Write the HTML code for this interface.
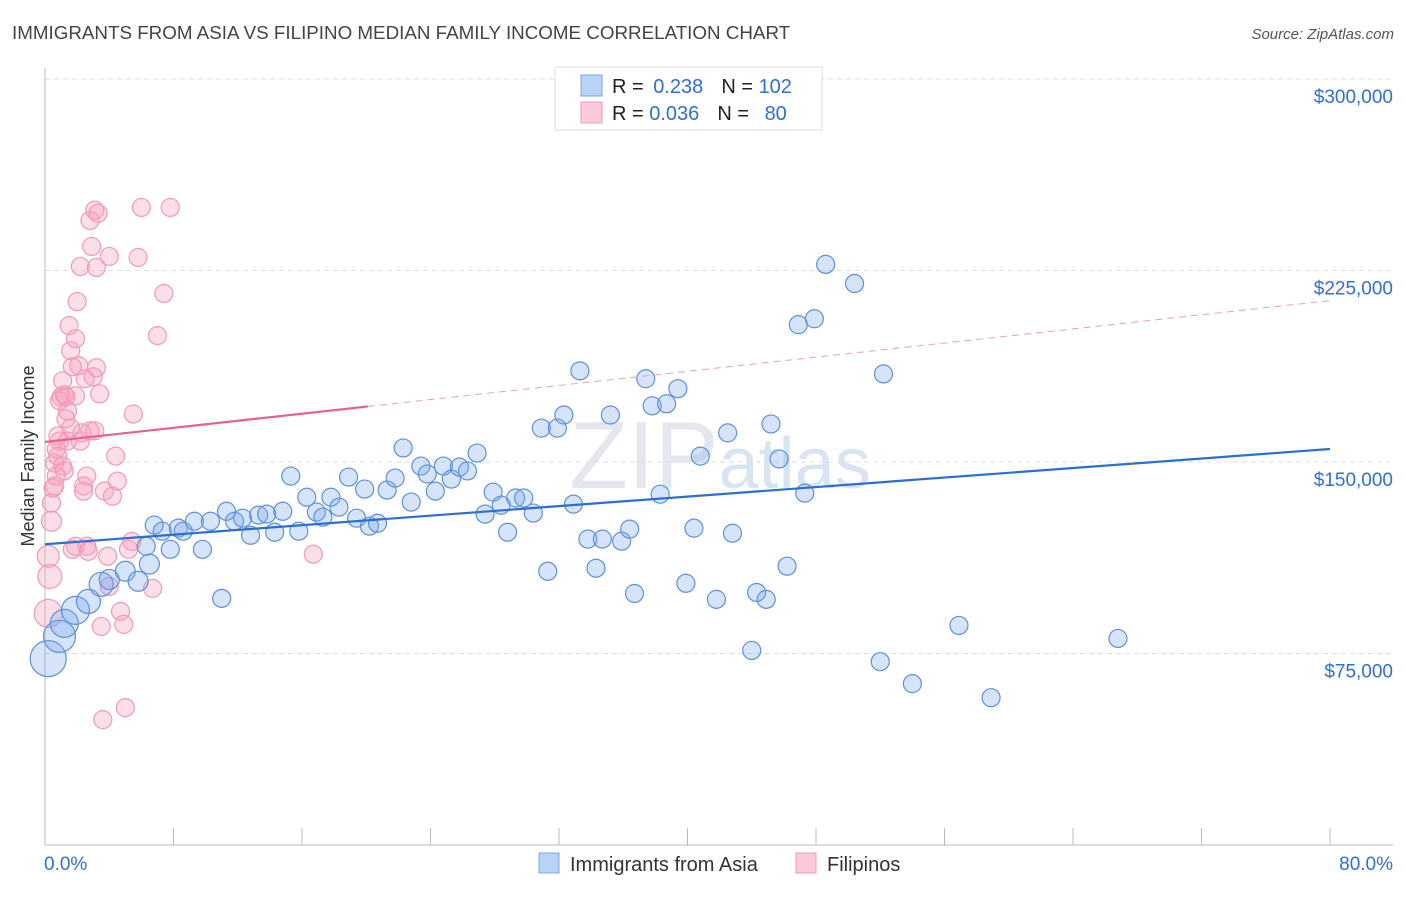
<!DOCTYPE html>
<html><head><meta charset="utf-8"><style>
body{margin:0;background:#fff;font-family:"Liberation Sans",sans-serif;}
svg text{font-family:"Liberation Sans",sans-serif;}
</style></head><body>
<svg id="chart" width="1406" height="892" xmlns="http://www.w3.org/2000/svg">
<text x="12" y="39" font-size="18.8" fill="#444">IMMIGRANTS FROM ASIA VS FILIPINO MEDIAN FAMILY INCOME CORRELATION CHART</text>
<text x="1394" y="39" font-size="15" fill="#555" font-style="italic" text-anchor="end">Source: ZipAtlas.com</text>
<text x="720" y="488" font-size="96" fill="#e4e8ee" text-anchor="middle" font-family="Liberation Serif">ZIP<tspan font-family="Liberation Sans" font-size="72" fill="#d8e4f2">atlas</tspan></text>
<g id="grid"></g>
<g id="axes"></g>
<g id="marks"></g>
<text transform="translate(34,456) rotate(-90)" font-size="18" fill="#333" text-anchor="middle">Median Family Income</text>
<g>
<rect x="555" y="67" width="267" height="63" fill="#fff" stroke="#ddd"/>
<rect x="581" y="75" width="21" height="21" fill="#b9d3f7" stroke="#7aa7e8"/>
<rect x="581" y="102" width="21" height="21" fill="#fcc9d8" stroke="#f09ab7"/>
<text x="612" y="93" font-size="20" fill="#222">R = <tspan fill="#2f6fd8" dx="4">0.238</tspan><tspan dx="18">N = </tspan><tspan fill="#2f6fd8">102</tspan></text>
<text x="612" y="120" font-size="20" fill="#222">R = <tspan fill="#2f6fd8">0.036</tspan><tspan dx="18">N = </tspan><tspan fill="#2f6fd8" dx="10">80</tspan></text>
</g>
<g>
<rect x="539" y="853" width="20" height="20" fill="#b9d3f7" stroke="#7aa7e8"/>
<text x="570" y="871" font-size="20" fill="#333">Immigrants from Asia</text>
<rect x="796" y="853" width="20" height="20" fill="#fcc9d8" stroke="#f09ab7"/>
<text x="827" y="871" font-size="20" fill="#333">Filipinos</text>
</g>
</svg>
<script>
const yTicks=[300000,225000,150000,75000];
const yTickLabels=["$300,000","$225,000","$150,000","$75,000"];
const xTickLabels=["0.0%","80.0%"];
const asiaX=[0.2,0.9,1.2,1.9,2.7,3.5,4.0,5.0,5.8,6.5,6.3,6.8,7.3,7.8,8.3,8.6,9.3,9.8,10.3,11.0,11.3,11.8,12.3,12.8,13.3,13.8,14.3,14.8,15.3,15.8,16.3,16.9,17.3,17.8,18.3,18.9,19.4,19.9,20.2,20.7,21.3,21.8,22.3,22.8,23.4,23.8,24.3,24.8,25.3,25.8,26.3,26.9,27.4,27.9,28.4,28.8,29.3,29.8,30.4,30.9,31.3,31.9,32.3,32.9,33.3,33.8,34.3,34.7,35.2,35.9,36.4,36.7,37.4,37.8,38.3,38.7,39.4,39.9,40.4,40.8,41.8,42.5,42.8,44.0,44.3,44.9,45.2,45.7,46.2,46.9,47.3,47.9,48.6,50.4,52.0,52.2,54.0,56.9,58.9,66.8];
const asiaIncome=[73,81.7,86.8,91.9,95.4,102.1,104,107.2,103.3,110,117,125.3,122.9,115.8,124.1,122.9,126.8,115.8,126.8,96.6,130.7,126.8,128,121.3,129.2,129.6,122.5,130.7,144.5,122.9,136.2,130.4,128.4,136.2,132.3,144.1,128,139.4,124.9,126,139,143.7,155.5,134.3,148.4,145.3,138.6,148.4,143.3,148,146.5,153.5,129.6,138.2,133.1,122.5,135.9,135.9,130,163.3,107.2,163.3,168.4,133.5,185.7,119.8,108.4,119.8,168.4,119,123.7,98.5,182.6,172,137.4,172.8,178.7,102.5,124.1,152.3,96.2,161.4,122.1,76.2,98.9,96.2,164.9,151.2,109.2,203.8,137.8,206.1,227.4,219.9,71.8,184.5,63.2,86,57.7,80.9];
const asiaWeight=[18,16,14,14,12,12,10,10,10,10];
const filX=[0.2,0.3,0.2,0.4,0.4,0.5,0.6,0.7,0.9,1.0,1.1,1.3,1.5,1.6,1.7,1.9,2.0,2.2,1.1,0.8,1.2,1.6,1.9,2.2,2.4,2.6,2.7,2.8,2.9,3.1,3.2,3.3,3.4,3.2,3.5,3.6,3.7,3.9,4.0,4.0,4.2,4.4,4.5,4.7,4.9,5.0,5.2,5.4,5.5,5.8,6.0,6.7,7.0,7.4,7.8,16.7,2.4,1.9,2.6,2.8,3.1,1.2,1.4,1.7,2.1,2.3,2.5,3.0,0.9,0.8,0.7,0.6,1.3,1.4];
const filIncome=[90.7,105.2,113.1,126.8,133.9,139.8,149.6,155.1,158.2,175.5,181.8,166.9,203.4,193.6,187.3,198.3,212.8,226.6,148.4,160.2,176.3,163.3,117,158.2,138.6,144.5,115,244.6,234.4,248.6,186.9,247.4,176.7,226.2,85.6,49.1,138.6,113.1,230.5,101.3,136.6,152.3,142.5,91.5,86.4,53.8,115.8,118.9,168.8,230.1,249.7,100.5,199.5,216,249.7,113.9,140.6,175.9,117,162.2,162.2,146.5,158.2,115.8,187.7,161.4,182.6,183.4,174,152.3,144.5,140.6,175.5,170];
const filWeight=[14,12,11,10];
const asiaTrend=[117.8,155.1];
const filTrend=[157.85,213.2];
const filSolidEnd=20.1;

const NS="http://www.w3.org/2000/svg";
const X0=45,X1=1330,Y0=845;
function xs(p){return X0+(X1-X0)*p/80;}
function ys(v){return Y0-(Y0-79)*v/300000;}
function mk(tag,attrs,parent){const e=document.createElementNS(NS,tag);for(const k in attrs)e.setAttribute(k,attrs[k]);parent.appendChild(e);return e;}
const grid=document.getElementById('grid'),axes=document.getElementById('axes'),marks=document.getElementById('marks');
yTicks.forEach((t,i)=>{
  const l=mk('line',{x1:X0,x2:1393,y1:ys(t),y2:ys(t),stroke:'#ddd','stroke-dasharray':'5,4'},grid);
  
  
  const tx=mk('text',{x:1393,y:ys(t)+24,'font-size':19,fill:'#2f6fd8','text-anchor':'end'},axes);
  tx.textContent=yTickLabels[i];
  
  
});
const ax=mk('line',{x1:X0,x2:1393,y1:Y0,y2:Y0,stroke:'#bbb'},axes);


const ay=mk('line',{x1:X0,x2:X0,y1:68,y2:Y0,stroke:'#bbb'},axes);


for(let p=0;p<=80;p+=8){
  const tk=mk('line',{x1:xs(p),x2:xs(p),y1:828,y2:Y0,stroke:'#bbb'},axes);
  
  
}
[[0,'start',44],[80,'end',1393]].forEach((d,i)=>{
  const t=mk('text',{x:d[2],y:870,'font-size':19,fill:'#2f6fd8','text-anchor':d[1]},axes);
  t.textContent=xTickLabels[i];
  
  
});
function dots(X,Y,W,fill,stroke,name){
  X.forEach((x,i)=>{
    const c=mk('circle',{cx:xs(x),cy:ys(Y[i]*1000),r:W[i]||9,fill:fill,stroke:stroke,'stroke-width':1.2},marks);
    
    
  });
}
dots(filX,filIncome,filWeight,'rgba(246,160,190,0.35)','#f09ab7','filipino-point');
dots(asiaX,asiaIncome,asiaWeight,'rgba(120,165,235,0.3)','#5d90e0','asia-point');
const ft=v=>filTrend[0]+(filTrend[1]-filTrend[0])*v/80;
const fd=mk('line',{x1:xs(filSolidEnd),y1:ys(ft(filSolidEnd)*1000),x2:xs(80),y2:ys(filTrend[1]*1000),stroke:'#eba0b9','stroke-width':1,'stroke-dasharray':'7,5'},marks);


const fs=mk('line',{x1:xs(0),y1:ys(filTrend[0]*1000),x2:xs(filSolidEnd),y2:ys(ft(filSolidEnd)*1000),stroke:'#e8618c','stroke-width':2.2},marks);


const at=mk('line',{x1:xs(0),y1:ys(asiaTrend[0]*1000),x2:xs(80),y2:ys(asiaTrend[1]*1000),stroke:'#2a6fd6','stroke-width':2.2},marks);


</script>
</body></html>
